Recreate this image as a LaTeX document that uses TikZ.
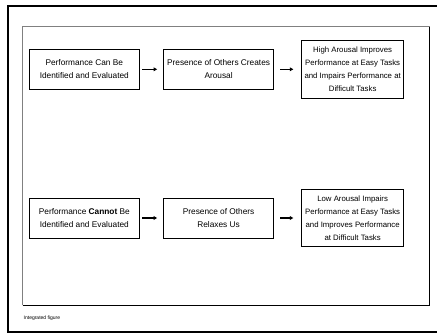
\documentclass[tikz,border=0pt]{standalone}
\usepackage{fontspec}
\setmainfont{Liberation Sans}
\usetikzlibrary{positioning}
\usetikzlibrary{arrows.meta}
\tikzstyle{stage} = [rectangle, draw, black, line width=0.9pt, align=center, inner sep=0pt, minimum width=110pt, minimum height=40pt, font=\fontsize{8.3}{12.7}\selectfont]
\tikzstyle{outcome} = [stage, minimum width=101.7pt, minimum height=57.6pt, font=\fontsize{7.8}{12.9}\selectfont]
\tikzstyle{flow} = [-{Triangle[length=3.6pt,width=3.8pt]}, line width=1.3pt, shorten <=2.7pt, shorten >=6pt]

\begin{document}
\begin{tikzpicture}[x=1pt,y=1pt]
            \useasboundingbox (0,0) rectangle (437,333);
            % frames
            \draw[line width=2pt] (438,327) -- (7.5,327) -- (7.5,1.5) -- (438,1.5);
            \draw[gray, line width=1.4pt] (22.7,27.7) -- (22.7,306.3) -- (429.7,306.3);
            \draw[black, line width=1pt] (22.7,27.7) -- (429.7,27.7) -- (429.7,306.3);
            \node[anchor=base west, inner sep=0pt, font=\fontsize{5}{6}\selectfont] (caption) at (23.5,14) {Integrated figure};
            % upper row
            \node[stage] (perfknown) at (84.3,263.7) {Performance Can Be\\Identified and Evaluated};
            \node[stage] (arousalup) [right = 23.4pt of perfknown] {Presence of Others Creates\\Arousal};
            \node[outcome] (highout) [right = 27.3pt of arousalup] {High Arousal Improves\\Performance at Easy Tasks\\and Impairs Performance at\\Difficult Tasks};
            \draw[flow] (perfknown) -- (arousalup);
            \draw[flow, shorten <=6.3pt, shorten >=8pt] (arousalup) -- (highout);
            % lower row
            \node[stage] (perfhidden) at (84.3,115) {Performance \textbf{Cannot} Be\\Identified and Evaluated};
            \node[stage] (arousaldown) [right = 23.4pt of perfhidden] {Presence of Others\\Relaxes Us};
            \node[outcome] (lowout) [right = 27.3pt of arousaldown] {Low Arousal Impairs\\Performance at Easy Tasks\\and Improves Performance\\at Difficult Tasks};
            \draw[flow] (perfhidden) -- (arousaldown);
            \draw[flow, shorten <=6.3pt, shorten >=8pt] (arousaldown) -- (lowout);
          \end{tikzpicture}
\end{document}
